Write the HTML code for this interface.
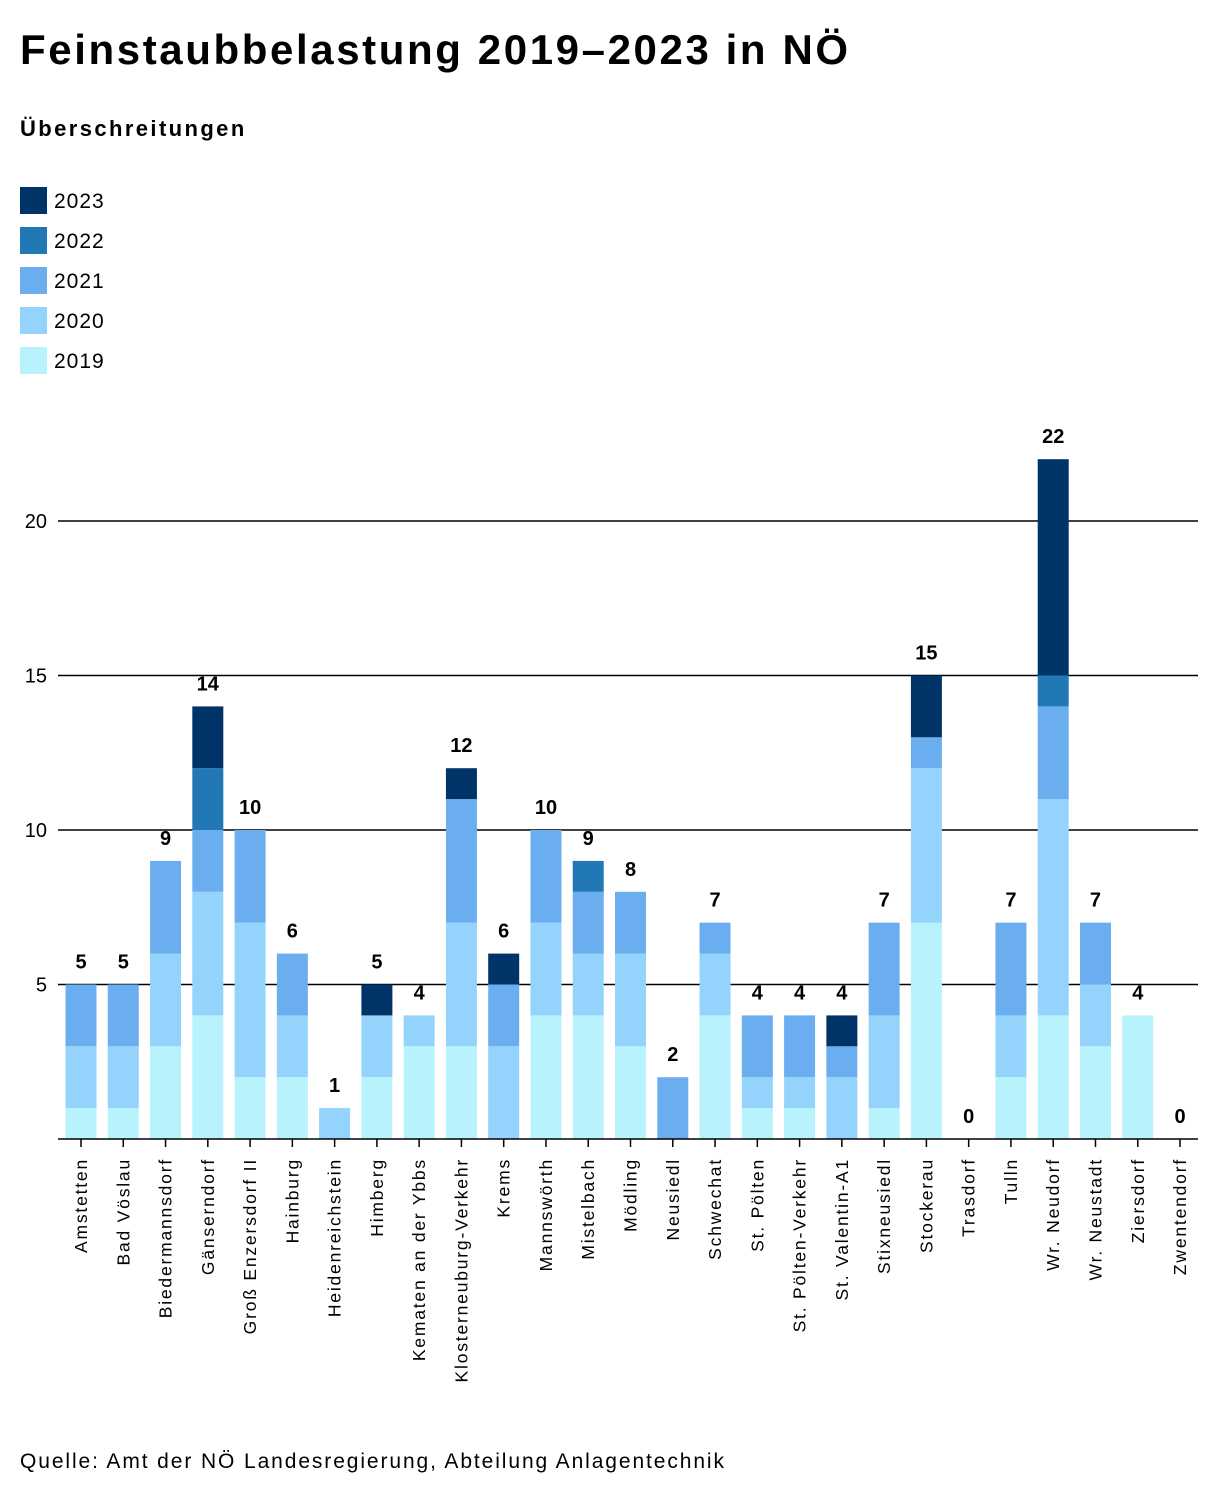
<!DOCTYPE html>
<html><head><meta charset="utf-8"><style>
body{margin:0;background:#fff;font-family:"Liberation Sans",sans-serif;color:#000}
#wrap{position:relative;width:1220px;height:1502px;overflow:hidden}
h1{position:absolute;left:20px;top:26px;margin:0;font-size:42px;font-weight:bold;letter-spacing:2.6px}
.sub{position:absolute;left:20px;top:116px;font-size:22px;font-weight:bold;letter-spacing:2.4px}
.src{position:absolute;left:20px;top:1450px;font-size:21px;letter-spacing:1.9px}
</style></head><body>
<div id="wrap">
<h1>Feinstaubbelastung 2019–2023 in NÖ</h1>
<div class="sub">Überschreitungen</div>
<svg id="chart" width="1220" height="1502" style="position:absolute;left:0;top:0"></svg>
<div class="src">Quelle: Amt der NÖ Landesregierung, Abteilung Anlagentechnik</div>
</div>
<script>
const categories=["Amstetten","Bad Vöslau","Biedermannsdorf","Gänserndorf","Groß Enzersdorf II","Hainburg","Heidenreichstein","Himberg","Kematen an der Ybbs","Klosterneuburg-Verkehr","Krems","Mannswörth","Mistelbach","Mödling","Neusiedl","Schwechat","St. Pölten","St. Pölten-Verkehr","St. Valentin-A1","Stixneusiedl","Stockerau","Trasdorf","Tulln","Wr. Neudorf","Wr. Neustadt","Ziersdorf","Zwentendorf"];
const v2019=[1,1,3,4,2,2,0,2,3,3,0,4,4,3,0,4,1,1,0,1,7,0,2,4,3,4,0];
const v2020=[2,2,3,4,5,2,1,2,1,4,3,3,2,3,0,2,1,1,2,3,5,0,2,7,2,0,0];
const v2021=[2,2,3,2,3,2,0,0,0,4,2,3,2,2,2,1,2,2,1,3,1,0,3,3,2,0,0];
const v2022=[0,0,0,2,0,0,0,0,0,0,0,0,1,0,0,0,0,0,0,0,0,0,0,1,0,0,0];
const v2023=[0,0,0,2,0,0,0,1,0,1,1,0,0,0,0,0,0,0,1,0,2,0,0,7,0,0,0];
const seriesNames=["2023","2022","2021","2020","2019"];
const yTicks=[5,10,15,20];
const colors={"2019":"#b8f3fd","2020":"#94d3fb","2021":"#6aaef0","2022":"#2178b5","2023":"#003468"};
const NS="http://www.w3.org/2000/svg";
const svg=document.getElementById('chart');
const y=v=>1139-v*30.9;
const x=i=>81+i*42.27;
const bw=31;
function mk(t,a){const e=document.createElementNS(NS,t);for(const k in a)e.setAttribute(k,a[k]);svg.appendChild(e);return e;}
seriesNames.forEach((s,i)=>{
 const r=mk('rect',{x:20,y:187+i*40,width:27,height:27,fill:colors[s]});
 
 
 const t=mk('text',{x:54,y:208+i*40,'font-size':21,'letter-spacing':1});t.textContent=s;
 
 
});
yTicks.forEach(v=>{
 const l=mk('line',{x1:58,x2:1198,y1:y(v),y2:y(v),stroke:'#000','stroke-width':1.5});
 
 
 const t=mk('text',{x:47,y:y(v)+7,'font-size':20,'text-anchor':'end'});t.textContent=v;
 
 
});
const series=[["2019",v2019],["2020",v2020],["2021",v2021],["2022",v2022],["2023",v2023]];
categories.forEach((c,i)=>{
 let acc=0;
 series.forEach(([n,arr])=>{
  const v=arr[i];if(v>0){
   const r=mk('rect',{x:x(i)-bw/2,y:y(acc+v),width:bw,height:y(acc)-y(acc+v),fill:colors[n]});
   
   
  }
  acc+=v;
 });
 const t=mk('text',{x:x(i),y:y(acc)-16,'font-size':20,'font-weight':'bold','text-anchor':'middle'});t.textContent=acc;
 
 
 const tk=mk('line',{x1:x(i),x2:x(i),y1:1139,y2:1147,stroke:'#000','stroke-width':1.5});
 
 
 const lb=mk('text',{x:0,y:0,'font-size':17.5,'letter-spacing':1.8,'text-anchor':'end',transform:`translate(${x(i)+6},1158) rotate(-90)`});lb.textContent=c;
 
 
});
const base=mk('line',{x1:58,x2:1198,y1:1139,y2:1139,stroke:'#000','stroke-width':1.5});


</script>
</body></html>
